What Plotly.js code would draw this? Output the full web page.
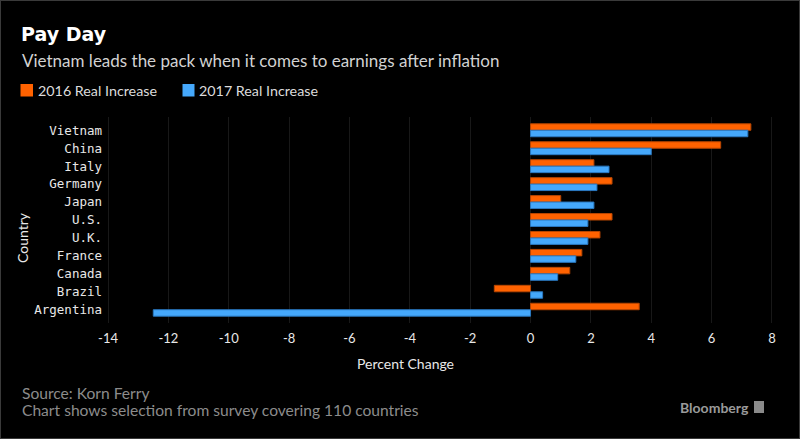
<!DOCTYPE html>
<html>
<head>
<meta charset="utf-8">
<script src="https://cdn.plot.ly/plotly-3.0.1.min.js"></script>
<style>
  html, body { margin: 0; padding: 0; background: #000; }
  #wrap { position: relative; width: 800px; height: 439px; }
  #chart { width: 800px; height: 439px; }
  #frame { position: absolute; left: 0; top: 0; width: 798px; height: 437px; border: 1px solid #3a3a3a; pointer-events: none; }
</style>
</head>
<body>
<div id="wrap"><div id="chart"></div><div id="frame"></div></div>
<script>
// ---- data ----
const countries = ["Vietnam", "China", "Italy", "Germany", "Japan", "U.S.", "U.K.", "France", "Canada", "Brazil", "Argentina"];
const real2016 = [7.3, 6.3, 2.1, 2.7, 1.0, 2.7, 2.3, 1.7, 1.3, -1.2, 3.6];
const real2017 = [7.2, 4.0, 2.6, 2.2, 2.1, 1.9, 1.9, 1.5, 0.9, 0.4, -12.5];
const seriesNames = ["2016 Real Increase", "2017 Real Increase"];
const xTicks = [-14, -12, -10, -8, -6, -4, -2, 0, 2, 4, 6, 8];
const titleText = "Pay Day";
const subtitleText = "Vietnam leads the pack when it comes to earnings after inflation";
const sourceText = "Source: Korn Ferry";
const noteText = "Chart shows selection from survey covering 110 countries";

// ---- style ----
const ORANGE = "#ff6200", ORANGE_LINE = "#b84600";
const BLUE = "#45a8fb", BLUE_LINE = "#2a78c0";
const SANS = "Lato, 'Open Sans', sans-serif";
const MONO = "'DejaVu Sans Mono', monospace";

const traces = [
  { type: "bar", orientation: "h", name: seriesNames[0], y: countries, x: real2016,
    marker: { color: ORANGE, line: { color: ORANGE_LINE, width: 1 } }, hoverinfo: "x+name" },
  { type: "bar", orientation: "h", name: seriesNames[1], y: countries, x: real2017,
    marker: { color: BLUE, line: { color: BLUE_LINE, width: 1 } }, hoverinfo: "x+name" }
];

const L = 105, R = 25, T = 117, B = 116, W = 800, H = 439;
const pw = W - L - R, ph = H - T - B;
const px = v => (v - L) / pw;            // pixel x -> paper x
const py = v => (H - B - v) / ph;        // pixel y -> paper y

const layout = {
  width: W, height: H,
  paper_bgcolor: "#000", plot_bgcolor: "#000",
  margin: { l: L, r: R, t: T, b: B, pad: 0 },
  barmode: "group", bargap: 0.28, bargroupgap: 0,
  showlegend: false,
  title: { text: "<b>" + titleText + "</b>", x: 21 / W, xanchor: "left", xref: "container",
           y: 1 - 34 / H, yanchor: "middle", yref: "container",
           font: { family: "'DejaVu Sans', sans-serif", size: 19, color: "#ffffff" } },
  xaxis: {
    range: [-14.1, 8.1], tickmode: "array", tickvals: xTicks, ticktext: xTicks.map(String),
    showgrid: true, gridcolor: "#181818", gridwidth: 1, zeroline: false, showline: false,
    ticks: "", ticklabelstandoff: 6,
    tickfont: { family: SANS, size: 13, color: "#e8e8e8" }, fixedrange: true
  },
  yaxis: {
    type: "category", categoryorder: "array", categoryarray: countries,
    range: [10.74, -0.74], showgrid: false, zeroline: false, showline: false,
    ticks: "", ticklabelstandoff: 2,
    tickfont: { family: MONO, size: 12.5, color: "#e8e8e8" }, fixedrange: true
  },
  annotations: [
    { text: subtitleText, xref: "paper", yref: "paper", x: px(20), y: py(60.5), xanchor: "left", yanchor: "middle",
      showarrow: false, font: { family: SANS, size: 17, color: "#d2d2d2" } },
    { text: seriesNames[0], xref: "paper", yref: "paper", x: px(36), y: py(90.5), xanchor: "left", yanchor: "middle",
      showarrow: false, font: { family: SANS, size: 14.3, color: "#dcdcdc" } },
    { text: seriesNames[1], xref: "paper", yref: "paper", x: px(197), y: py(90.5), xanchor: "left", yanchor: "middle",
      showarrow: false, font: { family: SANS, size: 14.3, color: "#dcdcdc" } },
    { text: "Percent Change", xref: "paper", yref: "paper", x: px(405), y: py(363), xanchor: "center", yanchor: "middle",
      showarrow: false, font: { family: SANS, size: 14, color: "#e8e8e8" } },
    { text: "Country", xref: "paper", yref: "paper", x: px(22), y: py(238), xanchor: "center", yanchor: "middle",
      textangle: -90, showarrow: false, font: { family: SANS, size: 14, color: "#e8e8e8" } },
    { text: sourceText, xref: "paper", yref: "paper", x: px(20), y: py(393), xanchor: "left", yanchor: "middle",
      showarrow: false, font: { family: SANS, size: 15.6, color: "#8c8c8c" } },
    { text: noteText, xref: "paper", yref: "paper", x: px(20), y: py(410), xanchor: "left", yanchor: "middle",
      showarrow: false, font: { family: SANS, size: 15.6, color: "#8c8c8c" } },
    { text: "<b>Bloomberg</b>", xref: "paper", yref: "paper", x: px(751), y: py(407), xanchor: "right", yanchor: "middle",
      showarrow: false, font: { family: SANS, size: 14, color: "#9a9a9a" } }
  ],
  shapes: [
    { type: "rect", xref: "paper", yref: "paper", x0: px(20.5), x1: px(33), y0: py(96.5), y1: py(84),
      fillcolor: ORANGE, line: { width: 0 } },
    { type: "rect", xref: "paper", yref: "paper", x0: px(182.5), x1: px(194.5), y0: py(96.5), y1: py(84),
      fillcolor: BLUE, line: { width: 0 } },
    { type: "rect", xref: "paper", yref: "paper", x0: px(754), x1: px(764), y0: py(413), y1: py(401),
      fillcolor: "#8a8a8a", line: { width: 0 } }
  ]
};

Plotly.newPlot("chart", traces, layout, { displayModeBar: false, staticPlot: true });
</script>
</body>
</html>
